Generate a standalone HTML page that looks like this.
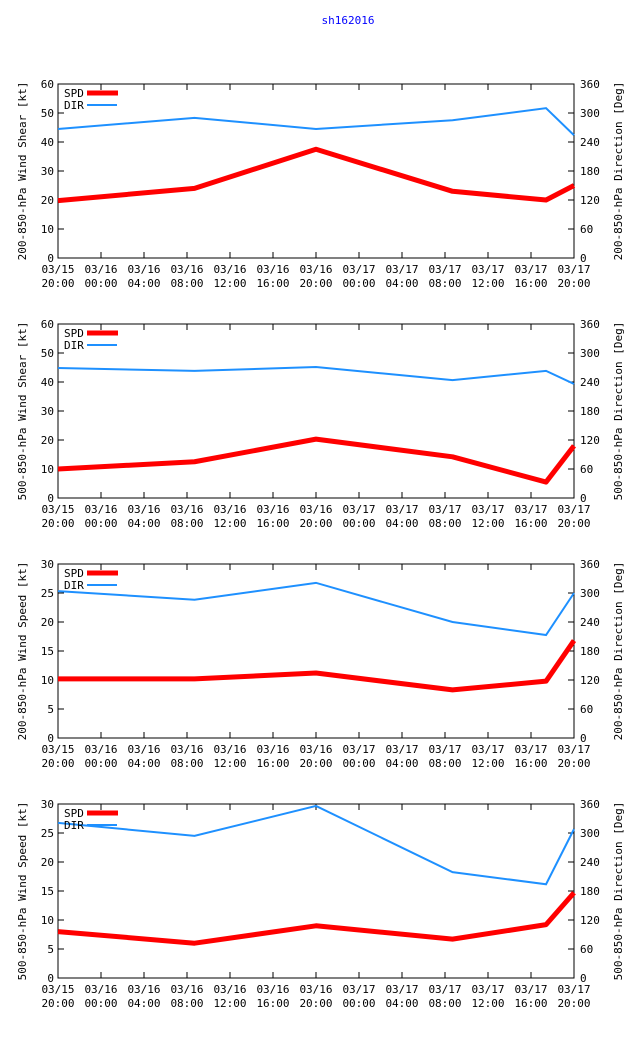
<!DOCTYPE html>
<html><head><meta charset="utf-8">
<style>
html,body{margin:0;padding:0;background:#fff;}
svg{display:block;font-family:"DejaVu Sans Mono","Liberation Mono",monospace;font-size:11px;}
</style></head>
<body>
<svg id="chart" width="640" height="1060" viewBox="0 0 640 1060" xmlns="http://www.w3.org/2000/svg">
<text x="348" y="24" text-anchor="middle" fill="#0000ff">sh162016</text>
</svg>
<script>
const hours = [0, 12.7, 24, 36.7, 45.4, 48];
const xTickLabels = ["03/15|20:00","03/16|00:00","03/16|04:00","03/16|08:00","03/16|12:00","03/16|16:00","03/16|20:00","03/17|00:00","03/17|04:00","03/17|08:00","03/17|12:00","03/17|16:00","03/17|20:00"];
const panelTitles = ["200-850-hPa Wind Shear [kt]","500-850-hPa Wind Shear [kt]","200-850-hPa Wind Speed [kt]","500-850-hPa Wind Speed [kt]"];
const rightTitles = ["200-850-hPa Direction [Deg]","500-850-hPa Direction [Deg]","200-850-hPa Direction [Deg]","500-850-hPa Direction [Deg]"];
const leftMax = [60, 60, 30, 30];
const leftStep = [10, 10, 5, 5];
const spd1 = [19.8, 24, 37.5, 23, 20, 25];
const dir1 = [267, 290, 267, 285, 310, 254];
const spd2 = [10, 12.5, 20.3, 14.2, 5.5, 18];
const dir2 = [269, 263, 271, 244, 263, 236];
const spd3 = [10.2, 10.2, 11.2, 8.3, 9.8, 16.8];
const dir3 = [304, 286, 321, 240, 213, 300];
const spd4 = [8, 6, 9, 6.7, 9.2, 14.7];
const dir4 = [321, 294, 356, 219, 194, 308];
const spdSeries = [spd1, spd2, spd3, spd4];
const dirSeries = [dir1, dir2, dir3, dir4];

const svg = document.getElementById('chart');
const NS = 'http://www.w3.org/2000/svg';
function mk(tag, attrs, parent){const e=document.createElementNS(NS,tag);for(const k in attrs)e.setAttribute(k,attrs[k]);(parent||svg).appendChild(e);return e;}
const X0=58, X1=574, H=174;
const tops=[84,324,564,804];
const xs = h => X0 + (X1-X0)*h/48;

tops.forEach((top,p)=>{
  const bot=top+H;
  const g=mk('g',{});
  
  
  const yL = v => bot - H*v/leftMax[p];
  const yR = v => bot - H*v/360;
  // frame
  const fr=mk('rect',{x:X0,y:top,width:X1-X0,height:H,fill:'none',stroke:'#000','stroke-width':1},g);
  
  
  // left ticks
  for(let v=0; v<=leftMax[p]; v+=leftStep[p]){
    const y=yL(v);
    mk('line',{x1:X0,x2:X0+6,y1:y,y2:y,stroke:'#000'},g);
    const t=mk('text',{x:X0-4,y:y+4,'text-anchor':'end'},g);
    t.textContent=v;
    
    
  }
  // right ticks
  for(let v=0; v<=360; v+=60){
    const y=yR(v);
    mk('line',{x1:X1-6,x2:X1,y1:y,y2:y,stroke:'#000'},g);
    const t=mk('text',{x:X1+6,y:y+4,'text-anchor':'start'},g);
    t.textContent=v;
    
    
  }
  // x ticks
  xTickLabels.forEach((lab,i)=>{
    const x=xs(i*4);
    mk('line',{x1:x,x2:x,y1:bot,y2:bot-6,stroke:'#000'},g);
    mk('line',{x1:x,x2:x,y1:top,y2:top+6,stroke:'#000'},g);
    const parts=lab.split('|');
    const t1=mk('text',{x:x,y:bot+15,'text-anchor':'middle'},g);
    t1.textContent=parts[0];
    
    
    const t2=mk('text',{x:x,y:bot+29,'text-anchor':'middle'},g);
    t2.textContent=parts[1];
    
    
  });
  // axis titles
  const cy=top+H/2;
  const lt=mk('text',{x:26,y:cy,'text-anchor':'middle',transform:`rotate(-90 26 ${cy})`},g);
  lt.textContent=panelTitles[p];
  
  
  const rt=mk('text',{x:622,y:cy,'text-anchor':'middle',transform:`rotate(-90 622 ${cy})`},g);
  rt.textContent=rightTitles[p];
  
  
  // series
  const dpts=hours.map((h,i)=>xs(h)+','+yR(dirSeries[p][i])).join(' ');
  const dl=mk('polyline',{points:dpts,fill:'none',stroke:'#1e90ff','stroke-width':2},g);
  
  
  const spts=hours.map((h,i)=>xs(h)+','+yL(spdSeries[p][i])).join(' ');
  const sl=mk('polyline',{points:spts,fill:'none',stroke:'#ff0000','stroke-width':5,'stroke-linejoin':'round'},g);
  
  
  // legend
  const l1=mk('text',{x:64,y:top+13},g);
  l1.textContent='SPD';
  
  
  const ls=mk('line',{x1:87,x2:118,y1:top+9,y2:top+9,stroke:'#ff0000','stroke-width':5},g);
  
  
  const l2=mk('text',{x:64,y:top+25},g);
  l2.textContent='DIR';
  
  
  const ld=mk('line',{x1:87,x2:117,y1:top+21,y2:top+21,stroke:'#1e90ff','stroke-width':2},g);
  
  
});
</script>
</body></html>
